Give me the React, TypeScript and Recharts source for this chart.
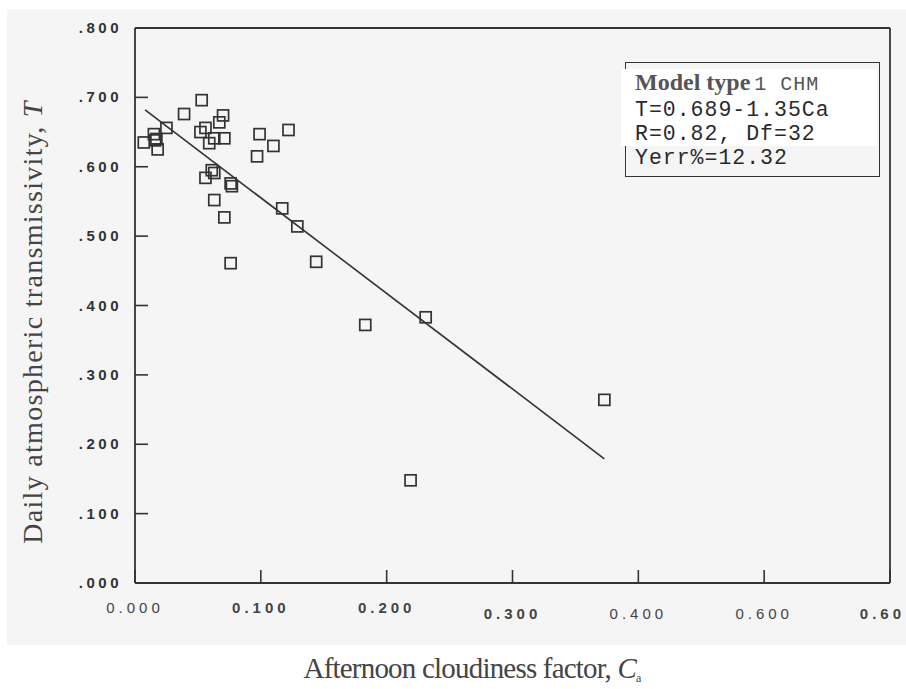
import { ScatterChart, Scatter, XAxis, YAxis, ReferenceLine, Legend } from 'recharts';

// afternoon cloudiness factor (Ca) and daily transmissivity (T)
const CA = [
  0.007, 0.015, 0.017, 0.016, 0.018, 0.025, 0.039, 0.053, 0.052, 0.056, 0.059, 0.063,
  0.071, 0.067, 0.07, 0.061, 0.063, 0.056, 0.076, 0.077, 0.063, 0.071, 0.076, 0.097,
  0.099, 0.11, 0.122, 0.117, 0.129, 0.144, 0.183, 0.231, 0.219, 0.373,
];
const T = [
  0.635, 0.647, 0.64, 0.638, 0.625, 0.656, 0.676, 0.696, 0.65, 0.656, 0.634, 0.641,
  0.641, 0.664, 0.674, 0.595, 0.591, 0.584, 0.576, 0.572, 0.552, 0.527, 0.461, 0.615,
  0.647, 0.63, 0.653, 0.54, 0.514, 0.463, 0.372, 0.383, 0.148, 0.264,
];

// regression line end points
const FIT_CA = [0.008, 0.373];
const FIT_T = [0.682, 0.179];

const X_TICKS = [0, 0.1, 0.2, 0.3, 0.4, 0.5, 0.6];
const X_TICK_LABELS = ['0.000', '0.100', '0.200', '0.300', '0.400', '0.600', '0.60'];
const Y_TICKS = [0, 0.1, 0.2, 0.3, 0.4, 0.5, 0.6, 0.7, 0.8];
const Y_TICK_LABELS = ['.000', '.100', '.200', '.300', '.400', '.500', '.600', '.700', '.800'];

const LEGEND_TITLE = 'Model type';
const LEGEND_MODEL = '1 CHM';
const LEGEND_LINES = ['T=0.689-1.35Ca', 'R=0.82, Df=32', 'Yerr%=12.32'];

const points = CA.map((ca, i) => ({ ca, t: T[i] }));

const INK = '#333';
const BOLD_X = [1, 2, 3, 6];

const XTick = ({ x, y, payload }: any) => {
  const i = X_TICKS.indexOf(payload.value);
  const last = i === X_TICKS.length - 1;
  return (
    <g>
      <line x1={x} y1={y} x2={x} y2={y - 13} stroke={INK} strokeWidth={1.6} />
      <text
        x={last ? 905 : x}
        y={y + (i >= 3 ? 36 : 30)}
        textAnchor={last ? 'end' : 'middle'}
        fontFamily="'Liberation Sans', Arial, sans-serif"
        fontSize={15}
        fontWeight={BOLD_X.includes(i) ? 700 : 400}
        letterSpacing={4}
        fill="#444"
      >
        {X_TICK_LABELS[i]}
      </text>
    </g>
  );
};

const YTick = ({ x, y, payload }: any) => {
  const i = Y_TICKS.indexOf(payload.value);
  return (
    <g>
      {i > 0 && i < Y_TICKS.length - 1 && (
        <line x1={x} y1={y} x2={x + 13} y2={y} stroke={INK} strokeWidth={1.6} />
      )}
      <text
        x={x - 13}
        y={y + 5}
        textAnchor="end"
        fontFamily="'Liberation Sans', Arial, sans-serif"
        fontSize={15}
        fontWeight={700}
        letterSpacing={3.5}
        fill="#333"
      >
        {Y_TICK_LABELS[i]}
      </text>
    </g>
  );
};

const Square = ({ cx, cy }: any) => (
  <rect x={cx - 5.5} y={cy - 5.5} width={11} height={11} fill="none" stroke={INK} strokeWidth={1.7} />
);

const mono = {
  fontFamily: "'Liberation Mono', 'Courier New', monospace",
  fontSize: 21.5,
  lineHeight: '24px',
  letterSpacing: 1,
};

const LegendBox = () => (
  <div
    style={{
      border: `1.5px solid ${INK}`,
      height: 115,
      boxSizing: 'border-box',
      padding: '6px 0 0 9px',
      color: '#2a2a2a',
      textAlign: 'left',
    }}
  >
    <div style={{ background: '#fff', marginLeft: -14, paddingLeft: 14, width: 242 }}>
      <div style={{ lineHeight: '26px' }}>
        <span style={{ fontFamily: "'Liberation Serif', serif", fontSize: 24, fontWeight: 700, color: '#555' }}>
          {LEGEND_TITLE}
        </span>{' '}
        <span style={{ fontFamily: "'Liberation Mono', monospace", fontSize: 20, color: '#555', letterSpacing: 1 }}>
          {LEGEND_MODEL}
        </span>
      </div>
      {LEGEND_LINES.slice(0, 2).map((s) => (
        <div key={s} style={mono}>{s}</div>
      ))}
    </div>
    <div style={mono}>{LEGEND_LINES[2]}</div>
  </div>
);

export default function App() {
  return (
    <div style={{ position: 'absolute', left: 0, top: 0, width: 906, height: 689, background: '#fff' }}>
      <div style={{ position: 'absolute', left: 7, top: 9, width: 899, height: 636, background: '#f5f5f5' }} />
      <div style={{ position: 'absolute', left: 0, top: 0 }}>
        <ScatterChart width={906} height={689} margin={{ top: 28, right: 16, bottom: 0, left: 0 }}>
          <XAxis
            type="number"
            dataKey="ca"
            domain={[0, 0.6]}
            ticks={X_TICKS}
            height={106}
            tickSize={0}
            tickMargin={0}
            tickLine={false}
            tick={<XTick />}
            axisLine={{ stroke: INK, strokeWidth: 1.8 }}
            label={{
              content: () => (
                <text
                  x={472}
                  y={678}
                  textAnchor="middle"
                  fontFamily="'Liberation Serif', 'Times New Roman', serif"
                  fontSize={29}
                  letterSpacing={-0.8}
                  fill="#444"
                >
                  Afternoon cloudiness factor,{' '}
                  <tspan fontStyle="italic">C</tspan>
                  <tspan fontSize={12} dy={4}>a</tspan>
                </text>
              ),
            }}
          />
          <YAxis
            type="number"
            dataKey="t"
            domain={[0, 0.8]}
            ticks={Y_TICKS}
            width={135}
            tickSize={0}
            tickMargin={0}
            tickLine={false}
            tick={<YTick />}
            axisLine={{ stroke: INK, strokeWidth: 1.8 }}
            label={{
              content: () => (
                <text
                  transform="translate(42,322) rotate(-90)"
                  textAnchor="middle"
                  fontFamily="'Liberation Serif', 'Times New Roman', serif"
                  fontSize={28}
                  letterSpacing={1.3}
                  fill="#444"
                >
                  Daily atmospheric transmissivity,{' '}
                  <tspan fontStyle="italic">T</tspan>
                </text>
              ),
            }}
          />
          <ReferenceLine y={0.8} stroke={INK} strokeWidth={1.8} />
          <ReferenceLine x={0.6} stroke={INK} strokeWidth={1.8} />
          <ReferenceLine
            segment={[
              { x: FIT_CA[0], y: FIT_T[0] },
              { x: FIT_CA[1], y: FIT_T[1] },
            ]}
            stroke={INK}
            strokeWidth={1.6}
          />
          <Scatter data={points} shape={<Square />} isAnimationActive={false} />
          <Legend
            layout="horizontal"
            verticalAlign="middle"
            align="center"
            content={<LegendBox />}
            wrapperStyle={{ left: 625, top: 62, width: 255 }}
          />
        </ScatterChart>
      </div>
    </div>
  );
}
